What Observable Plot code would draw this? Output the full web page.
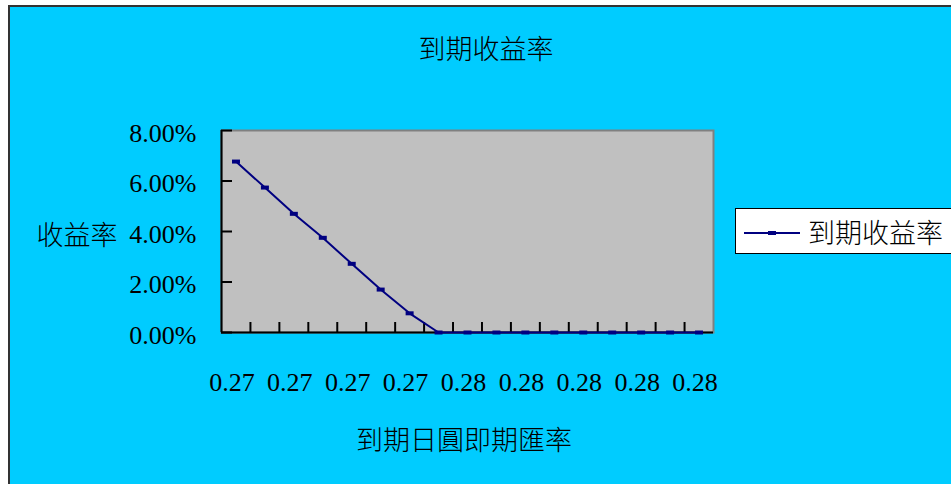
<!DOCTYPE html>
<html>
<head>
<meta charset="utf-8">
<script src="https://cdn.jsdelivr.net/npm/d3@7"></script>
<script src="https://cdn.jsdelivr.net/npm/@observablehq/plot@0.6"></script>
<style>
  html, body { margin: 0; padding: 0; background: #fff; }
  #chart { position: relative; width: 951px; height: 484px; overflow: hidden; }
  #panel { position: absolute; left: 8px; top: 5px; width: 960px; height: 500px;
           background: #00CCFF; border-left: 2px solid #333; border-top: 2px solid #333; }
  #plot { position: absolute; left: 0; top: 0; }
  .cjk { position: absolute; font-family: "Noto Sans CJK TC", "Noto Sans CJK SC", sans-serif;
         font-size: 27px; font-weight: 300; line-height: 1; color: #000; white-space: nowrap; transform: translate(-50%, -50%); }
  #legend { position: absolute; left: 735px; top: 208px; width: 240px; height: 44px;
            background: #fff; border: 1px solid #000; }
  #legend svg { position: absolute; left: 8px; top: 13px; }
  #legend .label { position: absolute; left: 72px; top: 50%; transform: translateY(-50%);
                   font-family: "Noto Sans CJK TC", sans-serif; font-size: 27px; font-weight: 300; line-height: 1; white-space: nowrap; }
</style>
</head>
<body>
<div id="chart">
  <div id="panel"></div>
  <div id="plot"></div>
  <div class="cjk" id="title" style="left:486px; top:47px;"></div>
  <div class="cjk" id="ylabel" style="left:77px; top:233px;"></div>
  <div class="cjk" id="xlabel" style="left:464px; top:438px;"></div>
  <div id="legend"></div>
</div>
<script>
// Yield to maturity (%) for each spot-rate category, left to right
const yieldRates = [6.77, 5.74, 4.70, 3.75, 2.72, 1.70, 0.76, 0, 0, 0, 0, 0, 0, 0, 0, 0, 0];
// Labels shown under every second category
const xTickLabels = ["0.27", "0.27", "0.27", "0.27", "0.28", "0.28", "0.28", "0.28", "0.28"];
const yTicks = [0, 2, 4, 6, 8];
const seriesName = "到期收益率";
const chartTitle = "到期收益率";
const yTitle = "收益率";
const xTitle = "到期日圓即期匯率";

const lineColor = "#000080";
const serif = "'Liberation Serif', 'Times New Roman', serif";

const data = yieldRates.map((v, i) => ({i, v}));
const nCat = yieldRates.length;
const labelPositions = d3.range(0, nCat, 2).map(i => i + 0.5);

// Flat dash marker, like a spreadsheet "dash" point style
const dash = {draw(ctx) { ctx.rect(-4, -2, 8, 4); }};

const W = 951, H = 484, mL = 221, mR = 238, mT = 130, mB = 152;
const plotW = W - mL - mR, plotH = H - mT - mB;

const chart = Plot.plot({
  width: W, height: H,
  marginLeft: mL, marginRight: mR, marginTop: mT, marginBottom: mB,
  style: {background: "transparent", overflow: "visible", fontFamily: serif},
  x: {domain: [0, nCat], axis: null, label: null},
  y: {domain: [0, 8], axis: null, label: null},
  marks: [
    Plot.frame({fill: "#C0C0C0", stroke: "#808080", strokeWidth: 2}),
    // inward tick marks on both axes
    Plot.ruleY(yTicks, {stroke: "#000", strokeWidth: 2, insetRight: plotW - 11}),
    Plot.ruleX(d3.range(1, nCat), {stroke: "#000", strokeWidth: 2, insetTop: plotH - 10}),
    Plot.ruleX([0], {stroke: "#000", strokeWidth: 2}),
    Plot.ruleY([0], {stroke: "#000", strokeWidth: 2}),
    Plot.line(data, {x: d => d.i + 0.5, y: "v", stroke: lineColor, strokeWidth: 2}),
    Plot.dot(data, {x: d => d.i + 0.5, y: "v", symbol: dash, fill: lineColor, stroke: "none", r: 4}),
    Plot.axisY(yTicks, {tickSize: 0, tickPadding: 25, tickFormat: d => d.toFixed(2) + "%", label: null,
      fontSize: 26, fontFamily: serif, fill: "#000", dy: 3}),
    Plot.axisX(labelPositions, {tickSize: 0, tickPadding: 40, label: null,
      tickFormat: d => xTickLabels[Math.round((d - 0.5) / 2)],
      fontSize: 26, fontFamily: serif, fill: "#000", dx: -4})
  ]
});
document.getElementById("plot").appendChild(chart);

document.getElementById("title").textContent = chartTitle;
document.getElementById("ylabel").textContent = yTitle;
document.getElementById("xlabel").textContent = xTitle;

// Legend: line sample with marker, then series name
const legend = document.getElementById("legend");
const key = d3.create("svg").attr("width", 58).attr("height", 20);
key.append("line").attr("x1", 0).attr("x2", 56).attr("y1", 11).attr("y2", 11)
  .attr("stroke", lineColor).attr("stroke-width", 2);
key.append("rect").attr("x", 24).attr("y", 9).attr("width", 8).attr("height", 4).attr("fill", lineColor);
legend.appendChild(key.node());
const lab = document.createElement("div");
lab.className = "label";
lab.textContent = seriesName;
legend.appendChild(lab);
</script>
</body>
</html>
